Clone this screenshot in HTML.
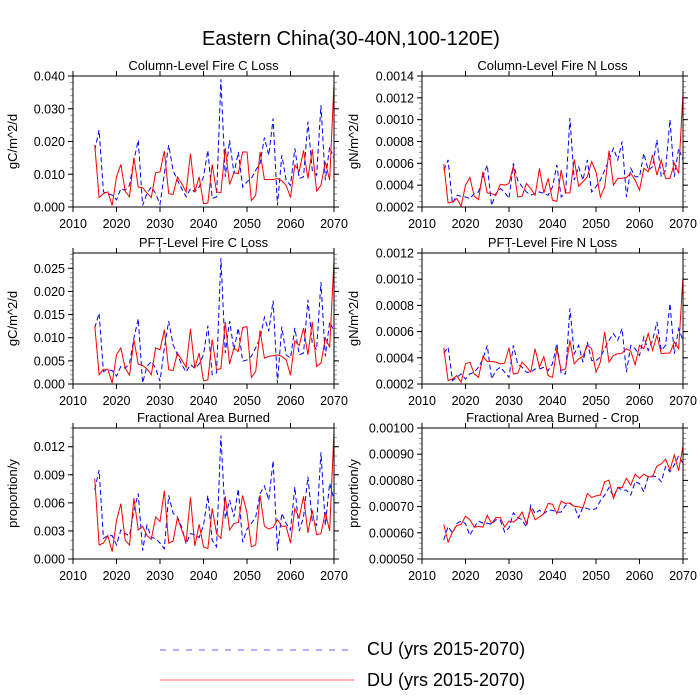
<!DOCTYPE html>
<html><head><meta charset="utf-8"><style>
body{margin:0;background:#fff;}
svg{display:block;font-family:"Liberation Sans",Arial,sans-serif;}
</style></head><body>
<svg id="chart" width="700" height="700" viewBox="0 0 700 700" xmlns="http://www.w3.org/2000/svg">
<text x="351" y="45" font-size="20" text-anchor="middle">Eastern China(30-40N,100-120E)</text>
<g>
<line x1="160" y1="650" x2="354" y2="650" stroke="#3030ff" stroke-width="1" stroke-dasharray="6,7" opacity="0.75"/>
<text x="367" y="655" font-size="18">CU (yrs 2015-2070)</text>
<line x1="160" y1="680" x2="354" y2="680" stroke="#ff0000" stroke-width="1" opacity="0.6"/>
<text x="367" y="686" font-size="18">DU (yrs 2015-2070)</text>
</g>
</svg>
<script>
const years = [];
for (let y = 2015; y <= 2070; y++) years.push(y);
const xTicks = [2010, 2020, 2030, 2040, 2050, 2060, 2070];

const p1Red = [.0189,.0029,.0041,.0046,.0005,.0092,.013,.0048,.0031,.0151,.0061,.0059,.0043,.0029,.0105,.0107,.0171,.0041,.0038,.0092,.0071,.0046,.0163,.0046,.0092,.001,.0012,.013,.0046,.0044,.018,.0069,.0105,.0102,.0168,.0168,.002,.0036,.0168,.0084,.0084,.0084,.0087,.008,.0066,.0029,.0128,.0109,.0173,.0087,.0176,.0049,.0066,.0138,.0082,.0378];
const p1Blue = [.0173,.0235,.0046,.0041,.0036,.0022,.0056,.0051,.0066,.0143,.0204,.0005,.0041,.0061,.0041,.0008,.0102,.0189,.0112,.0082,.0056,.0031,.0056,.0046,.0061,.0092,.0173,.0026,.0031,.039,.0092,.0204,.0102,.0168,.0061,.0077,.0087,.0112,.0133,.0212,.0158,.027,.0005,.0158,.0082,.0066,.0179,.0087,.0092,.026,.0112,.0097,.0311,.0082,.0184,.0148];
const p2Red = [5.94,2.37,2.46,2.77,2.09,4.0,4.71,2.98,2.68,5.23,3.29,3.23,3.08,4.09,4.0,4.15,5.75,2.92,2.98,4.15,3.69,3.08,5.54,3.29,4.62,2.62,2.52,5.38,3.29,3.29,6.37,3.91,4.31,4.77,6.15,5.23,2.92,3.85,7.17,4.0,4.62,4.62,4.71,5.08,4.46,3.54,5.54,5.23,6.77,4.92,6.31,4.62,4.62,6.0,5.08,12.46];
const p2Blue = [5.38,6.31,2.31,3.08,2.98,2.92,2.77,3.23,3.38,4.77,5.85,2.15,3.23,3.69,3.38,2.77,6.0,4.46,3.85,3.38,3.08,3.23,3.38,3.23,3.08,3.85,5.85,2.92,3.23,10.15,4.46,5.69,4.46,6.31,3.38,3.85,4.46,5.38,6.31,7.38,6.31,8.0,2.92,5.54,4.77,4.77,6.92,5.38,5.69,8.15,4.77,5.38,10.0,4.77,7.38,6.31];
const p3Red = [.0126,.002,.0032,.0032,.0002,.0063,.0078,.0034,.0019,.0096,.0043,.004,.0033,.002,.0078,.0074,.0117,.0031,.0029,.0067,.0052,.0036,.0119,.0034,.0067,.0007,.0009,.0096,.0031,.0033,.0134,.0043,.0078,.007,.0122,.0124,.0014,.0027,.0116,.0056,.006,.0061,.0063,.006,.0052,.0019,.0093,.0083,.0121,.0063,.0134,.0038,.0045,.0099,.0079,.0268];
const p3Blue = [.0121,.0153,.0027,.0031,.0029,.0017,.0038,.0034,.0045,.0099,.0141,.0002,.0038,.0049,.0034,.0006,.0078,.0136,.0085,.0063,.0042,.0026,.0042,.0034,.0043,.0063,.0126,.002,.0024,.0272,.0067,.0136,.0074,.0121,.0049,.0052,.006,.0078,.0099,.0144,.0114,.018,.0002,.0124,.0063,.0056,.0121,.0063,.0067,.0182,.0088,.0074,.022,.006,.0134,.0114];
const p4Red = [4.77,2.26,2.38,2.64,2.13,3.54,3.67,2.77,2.51,4.1,3.72,3.72,3.67,3.54,3.59,4.77,2.77,2.82,3.67,3.33,2.9,4.69,3.28,4.1,2.64,2.51,4.69,3.03,3.15,5.33,3.54,3.92,4.1,4.95,4.69,2.9,3.67,5.97,3.67,4.18,4.31,4.36,4.69,4.51,3.46,4.95,4.69,5.85,4.56,5.72,4.31,4.36,4.36,5.21,4.69,10.2];
const p4Blue = [4.36,4.82,2.26,2.51,2.77,2.38,2.77,2.9,3.28,3.92,4.95,2.38,3.03,3.28,2.9,2.51,4.95,3.54,3.28,2.9,2.9,3.15,3.15,3.28,3.03,3.54,5.08,2.77,2.77,7.77,4.31,4.95,3.67,5.21,3.79,3.79,4.05,4.69,5.33,5.85,5.33,6.23,2.9,4.95,4.69,4.18,5.59,4.56,5.33,6.74,4.56,4.95,8.15,4.31,6.23,5.33];
const p5Red = [.0086,.0015,.0017,.0025,.0008,.0041,.0059,.002,.0015,.0065,.0031,.0035,.0025,.0021,.0045,.004,.0073,.0017,.0019,.0044,.0031,.0018,.0066,.0014,.0037,.0013,.0011,.0054,.0027,.0022,.0067,.0031,.0038,.0039,.0068,.0049,.0013,.0015,.0068,.0035,.0032,.0034,.0042,.0035,.0035,.0017,.0054,.0044,.0067,.0028,.0052,.0026,.0027,.005,.003,.0137];
const p5Blue = [.0074,.0095,.0022,.0025,.0025,.0015,.0031,.0027,.0025,.0052,.007,.0009,.0036,.0023,.0022,.0017,.0011,.0068,.0049,.0045,.0034,.0016,.0027,.0026,.0023,.0036,.0068,.002,.0013,.0132,.0043,.0063,.0045,.0075,.0018,.0032,.0038,.0045,.007,.0078,.0063,.0105,.0009,.0049,.0038,.0031,.0077,.003,.0045,.0088,.0041,.0036,.0114,.0036,.0081,.0063];
const p6Red = [6.32,5.64,6.03,6.28,6.32,6.63,6.5,6.22,6.24,6.22,6.67,6.35,6.58,6.58,6.22,6.45,6.41,6.54,6.79,6.35,6.92,6.5,6.6,6.73,7.12,7.09,6.73,7.21,7.12,7.14,7.01,6.99,6.96,7.5,7.35,7.41,7.44,7.95,8.01,7.31,7.73,7.73,8.08,7.82,8.24,8.08,8.24,8.14,8.14,8.55,8.63,8.81,8.4,8.97,8.37,9.32];
const p6Blue = [5.73,6.24,5.99,6.35,6.45,6.35,5.9,6.22,6.45,6.37,6.37,6.32,6.5,6.47,6.03,6.19,6.76,6.58,6.5,6.22,7.05,6.73,6.86,6.73,6.86,6.86,6.79,6.79,7.05,7.12,7.01,6.58,6.99,6.92,6.88,6.92,7.22,7.44,7.73,7.37,7.73,7.63,7.63,7.44,7.95,7.88,7.56,8.14,8.17,8.14,7.95,8.53,8.33,8.59,8.94,8.65];

const NS = "http://www.w3.org/2000/svg";
const svg = document.getElementById("chart");
function mk(tag, attrs, parent) {
  const e = document.createElementNS(NS, tag);
  for (const k in attrs) e.setAttribute(k, attrs[k]);
  (parent || svg).appendChild(e);
  return e;
}
const panels = [
  {name:"column-c-loss", title:"Column-Level Fire C Loss", unit:"gC/m^2/d", x0:73, y0:76, red:p1Red, blue:p1Blue, scale:1, min:0, max:0.040, major:0.010, minor:0.002, dec:3, left:true},
  {name:"column-n-loss", title:"Column-Level Fire N Loss", unit:"gN/m^2/d", x0:422, y0:76, red:p2Red, blue:p2Blue, scale:1e-4, min:0.0002, max:0.0014, major:0.0002, minor:0.00005, dec:4, left:false},
  {name:"pft-c-loss", title:"PFT-Level Fire C Loss", unit:"gC/m^2/d", x0:73, y0:253, red:p3Red, blue:p3Blue, scale:1, min:0, max:0.0283, major:0.005, minor:0.001, dec:3, left:true},
  {name:"pft-n-loss", title:"PFT-Level Fire N Loss", unit:"gN/m^2/d", x0:422, y0:253, red:p4Red, blue:p4Blue, scale:1e-4, min:0.0002, max:0.0012, major:0.0002, minor:0.00005, dec:4, left:false},
  {name:"area-burned", title:"Fractional Area Burned", unit:"proportion/y", x0:73, y0:428, red:p5Red, blue:p5Blue, scale:1, min:0, max:0.014, major:0.003, minor:0.001, dec:3, left:true},
  {name:"area-burned-crop", title:"Fractional Area Burned - Crop", unit:"proportion/y", x0:422, y0:428, red:p6Red, blue:p6Blue, scale:1e-4, min:0.0005, max:0.0010, major:0.0001, minor:0.00002, dec:5, left:false}
];
const W = 261, H = 131;
panels.forEach(p => {
  const g = mk("g", {});
  
  
  const xs = yr => p.x0 + (yr - 2010) / 60 * W;
  const ys = v => p.y0 + H - (v - p.min) / (p.max - p.min) * H;
  const t = mk("text", {x: p.x0 + W/2, y: p.y0 - 6, "font-size": 13, "text-anchor": "middle"}, g);
  t.textContent = p.title;
  
  
  const nMin = Math.round((p.max - p.min) / p.minor);
  for (let i = 0; i <= nMin; i++) {
    const v = p.min + i * p.minor;
    if (v > p.max + 1e-12) break;
    const y = ys(v);
    mk("line", {x1:p.x0-3, x2:p.x0, y1:y, y2:y, stroke:"#999", "stroke-width":1}, g);
    mk("line", {x1:p.x0+W, x2:p.x0+W+3, y1:y, y2:y, stroke:"#999", "stroke-width":1}, g);
  }
  const nMaj = Math.floor((p.max - p.min) / p.major + 1e-6);
  for (let i = 0; i <= nMaj; i++) {
    const v = p.min + i * p.major;
    const y = ys(v);
    mk("line", {x1:p.x0-5, x2:p.x0, y1:y, y2:y, stroke:"#000", "stroke-width":1}, g);
    mk("line", {x1:p.x0+W, x2:p.x0+W+5, y1:y, y2:y, stroke:"#000", "stroke-width":1}, g);
    const lb = mk("text", {x:p.x0-8, y:y+4.5, "font-size":12.5, "text-anchor":"end"}, g);
    lb.textContent = v.toFixed(p.dec);
    
    
  }
  xTicks.forEach(yr => {
    const x = xs(yr);
    mk("line", {x1:x, x2:x, y1:p.y0+H, y2:p.y0+H+5, stroke:"#000", "stroke-width":1}, g);
    mk("line", {x1:x, x2:x, y1:p.y0-5, y2:p.y0, stroke:"#000", "stroke-width":1}, g);
    const lb = mk("text", {x:x, y:p.y0+H+21, "font-size":12.5, "text-anchor":"middle"}, g);
    lb.textContent = yr;
    
    
  });
  const tx = p.left ? 13 : 354;
  const yt = mk("text", {x:tx, y:p.y0 + H/2, "font-size":13, "text-anchor":"middle", transform:`rotate(-90 ${tx} ${p.y0 + H/2})`, dy:"4"}, g);
  yt.textContent = p.unit;
  
  
  const path = arr => arr.map((v, i) => (i ? "L" : "M") + xs(years[i]).toFixed(2) + "," + ys(v * p.scale).toFixed(2)).join(" ");
  const cl = "clip-" + p.name;
  const cp = mk("clipPath", {id: cl}, g);
  mk("rect", {x:p.x0, y:p.y0, width:W, height:H}, cp);
  const bl = mk("path", {d:path(p.blue), fill:"none", stroke:"#0000ff", "stroke-width":1, "stroke-dasharray":"5,3", "clip-path":`url(#${cl})`}, g);
  
  
  const rl = mk("path", {d:path(p.red), fill:"none", stroke:"#ff0000", "stroke-width":1, "clip-path":`url(#${cl})`}, g);
  
  
  const fr = mk("rect", {x:p.x0, y:p.y0, width:W, height:H, fill:"none", stroke:"#000", "stroke-width":1}, g);
  
  
});
</script>
</body></html>
